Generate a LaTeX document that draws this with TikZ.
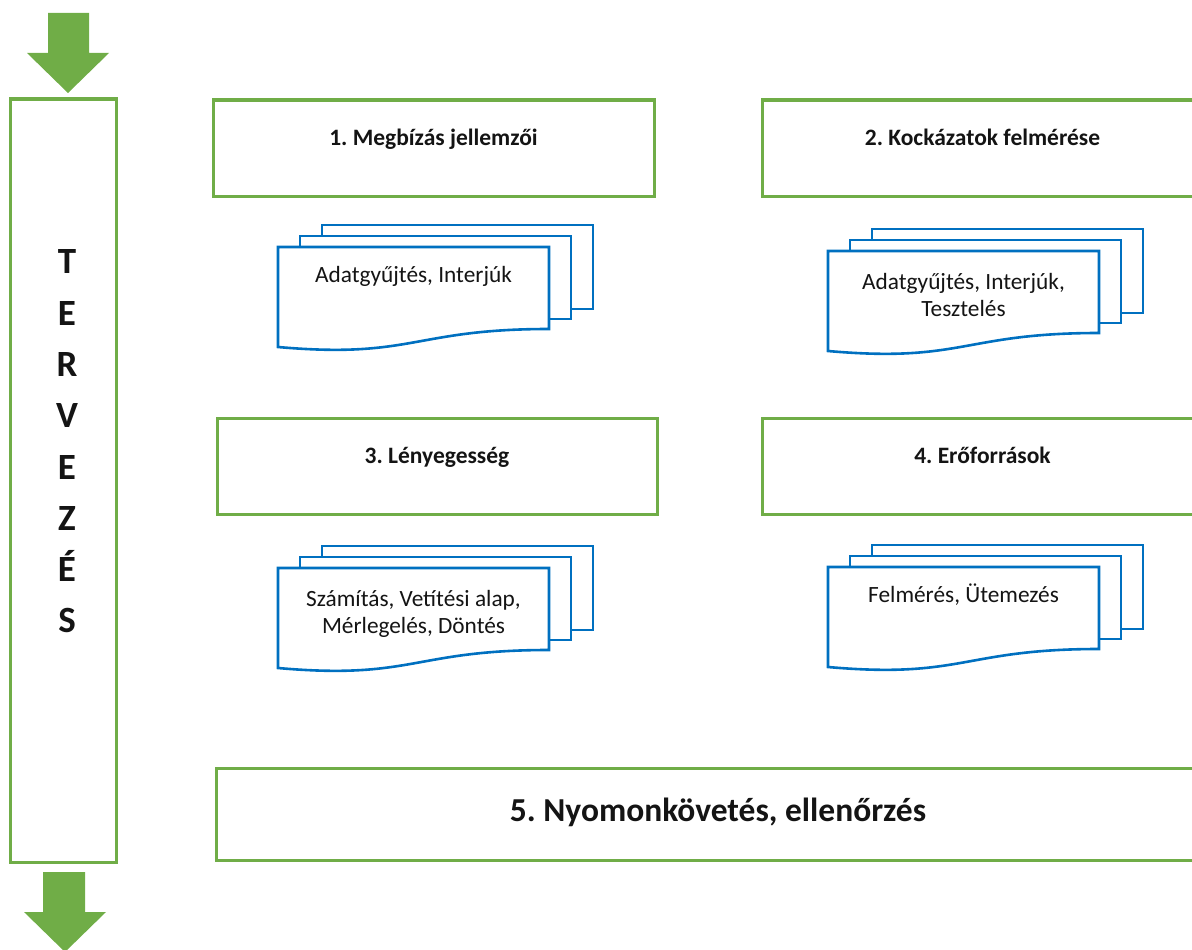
\documentclass[tikz,border=0pt]{standalone}
\usepackage{fontspec}
\setmainfont{Carlito}
\usetikzlibrary{calc}
\frenchspacing

\definecolor{framegreen}{RGB}{112,173,71}
\definecolor{docblue}{RGB}{0,112,192}
\definecolor{inktext}{RGB}{20,20,20}

\tikzset{
  gbox/.style={draw=framegreen, line width=3pt, fill=white, rectangle, inner sep=0pt},
  titletext/.style={font=\fontsize{23.5}{28}\selectfont\bfseries, anchor=base, inner sep=0pt, text=inktext},
  bigtitle/.style={font=\fontsize{33.5}{38}\selectfont\bfseries, anchor=base, inner sep=0pt, text=inktext},
  sidetext/.style={font=\fontsize{37}{51.3}\selectfont\bfseries, align=center, inner sep=0pt, text=inktext},
  docline/.style={draw=docblue, line width=2.6pt, fill=white, line join=miter},
  doctext/.style={font=\fontsize{23.3}{28}\selectfont, anchor=base, inner sep=0pt, text=inktext},
  flowarrow/.style={fill=framegreen},
}

% A stack of three pages: two plain sheets behind a front sheet with a wavy foot.
% #1 = left edge of the front sheet, #2 = its top edge
\newcommand\pagestack[2]{%
  \begin{scope}[shift={(#1,#2)}]
    \path[docline] (44,-22) rectangle (315,62);
    \path[docline] (22,-11) rectangle (293,72);
    \path[docline] (0,0) -- (271,0) -- (271,82)
      .. controls (135,82) and (135,112) .. (0,100) -- cycle;
  \end{scope}}

\begin{document}
\begin{tikzpicture}[x=1pt,y=-1pt]
\clip (0,0) rectangle (1192,950);

% flow arrows above and below the phase column
\path[flowarrow] (48,13) -- (89,13) -- (89,53) -- (109,53) -- (68,93)
  -- (27,53) -- (48,53) -- cycle;
\path[flowarrow] (43,872) -- (85,872) -- (85,912) -- (106,912) -- (65,952)
  -- (24,912) -- (43,912) -- cycle;

% phase column
\node[gbox, minimum width=106pt, minimum height=763pt] (phase) at (63,480.5) {};
\node[sidetext] (phaselabel) at (67,441.5) {T\\E\\R\\V\\E\\Z\\É\\S};

% step boxes
\node[gbox, minimum width=441pt, minimum height=96pt] (s1) at (433.5,148) {};
\node[gbox, minimum width=441pt, minimum height=96pt] (s2) at (982.5,148) {};
\node[gbox, minimum width=440pt, minimum height=96pt] (s3) at (437,466) {};
\node[gbox, minimum width=441pt, minimum height=96pt] (s4) at (982.5,466) {};
\node[gbox, minimum width=1004pt, minimum height=92pt] (s5) at (718,814) {};

\node[titletext] (t1) at ($(s1.north)+(0,47)$) {1. Megbízás jellemzői};
\node[titletext] (t2) at ($(s2.north)+(0,47)$) {2. Kockázatok felmérése};
\node[titletext] (t3) at ($(s3.north)+(0,47)$) {3. Lényegesség};
\node[titletext] (t4) at ($(s4.north)+(0,47)$) {4. Erőforrások};
\node[bigtitle] (t5) at ($(s5.north)+(0,55)$) {5. Nyomonkövetés, ellenőrzés};

% document stacks under each step
\pagestack{278}{247}
\node[doctext] (d1) at (413.5,282) {Adatgyűjtés, Interjúk};

\pagestack{828}{251}
\node[doctext] (d2a) at (963.5,289.5) {Adatgyűjtés, Interjúk,};
\node[doctext] (d2b) at (963.5,316) {Tesztelés};

\pagestack{278}{568}
\node[doctext] (d3a) at (413.5,606.5) {Számítás, Vetítési alap,};
\node[doctext] (d3b) at (413.5,633) {Mérlegelés, Döntés};

\pagestack{828}{567}
\node[doctext] (d4) at (963.5,602) {Felmérés, Ütemezés};

\end{tikzpicture}
\end{document}
